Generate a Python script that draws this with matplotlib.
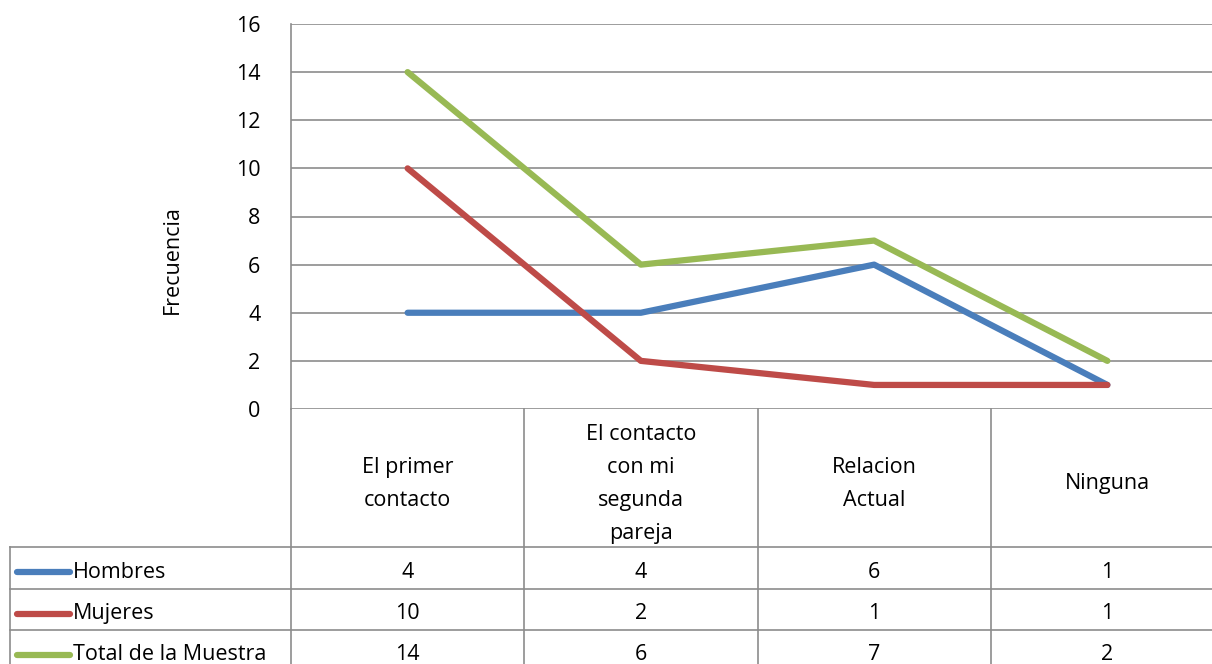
import matplotlib.pyplot as plt
import matplotlib.transforms as mtransforms

# Data
categories = ["El primer\ncontacto", "El contacto\ncon mi\nsegunda\npareja", "Relacion\nActual", "Ninguna"]
series_names = ["Hombres", "Mujeres", "Total de la Muestra"]
hombres = [4, 4, 6, 1]
mujeres = [10, 2, 1, 1]
total = [14, 6, 7, 2]
colors = ["#4A7EBB", "#BE4B48", "#98B954"]
yticks = [0, 2, 4, 6, 8, 10, 12, 14, 16]

plt.rcParams['font.family'] = ['Open Sans', 'DejaVu Sans']
FS = 15.5
GRID = "#8C8C8C"
LW = 4.5

W, H = 1212, 664
fig = plt.figure(figsize=(W / 100, H / 100), dpi=100)
# plot area in pixels: x 291..1224, y 24..409
ax = fig.add_axes([291 / W, 1 - 409 / H, (1224 - 291) / W, (409 - 24) / H])

x = list(range(len(categories)))
for vals, c in zip([hombres, mujeres, total], colors):
    ax.plot(x, vals, color=c, lw=LW, solid_capstyle='round', solid_joinstyle='round', zorder=3)

ax.set_xlim(-0.5, len(categories) - 0.5)
ax.set_ylim(0, 16)
ax.set_yticks(yticks)
ax.set_xticks([])
ax.yaxis.grid(True, color=GRID, lw=1.2)
ax.set_axisbelow(True)
for s in ['top', 'right', 'bottom']:
    ax.spines[s].set_visible(False)
ax.spines['left'].set_color(GRID)
ax.spines['left'].set_linewidth(1.2)
ax.tick_params(axis='y', length=0, pad=22, labelsize=FS)
ax.set_ylabel("Frecuencia", fontsize=FS)
ax.yaxis.set_label_coords((183 - 291) / 933, (409 - 260) / 385)

# data table below the plot
tr = mtransforms.blended_transform_factory(ax.transData, ax.transAxes)
cat_px = (1224 - 291) / len(categories)
def fy(p):
    return (409 - p) / 385.0

left_edge = -0.5 + (10 - 291) / cat_px
row_tops = [547, 589, 630, 672]
kw = dict(color=GRID, lw=1.2, transform=tr, clip_on=False)

# vertical lines
ax.plot([-0.5, -0.5], [fy(409), fy(700)], **kw)
for i in range(1, len(categories)):
    ax.plot([i - 0.5, i - 0.5], [fy(409), fy(700)], **kw)
ax.plot([left_edge, left_edge], [fy(547), fy(700)], **kw)
# horizontal lines
for r in row_tops[:-1]:
    ax.plot([left_edge, len(categories) - 0.5], [fy(r), fy(r)], **kw)

# header labels
for i, cat in enumerate(categories):
    ax.text(i, fy(484), cat, transform=tr, ha='center', va='center',
            fontsize=FS, linespacing=1.75)

# rows
for j, (name, vals, c) in enumerate(zip(series_names, [hombres, mujeres, total], colors)):
    yc = fy((row_tops[j] + row_tops[j + 1]) / 2 + 4)
    x0 = left_edge + 7 / cat_px
    x1 = left_edge + 60 / cat_px
    ax.plot([x0, x1], [yc, yc], color=c, lw=LW, solid_capstyle='round', transform=tr, clip_on=False)
    ax.text(left_edge + 63 / cat_px, yc, name, transform=tr,
            ha='left', va='center', fontsize=FS)
    for i, v in enumerate(vals):
        ax.text(i, yc, str(v), transform=tr, ha='center', va='center', fontsize=FS)

fig.savefig("out.png", dpi=100)
